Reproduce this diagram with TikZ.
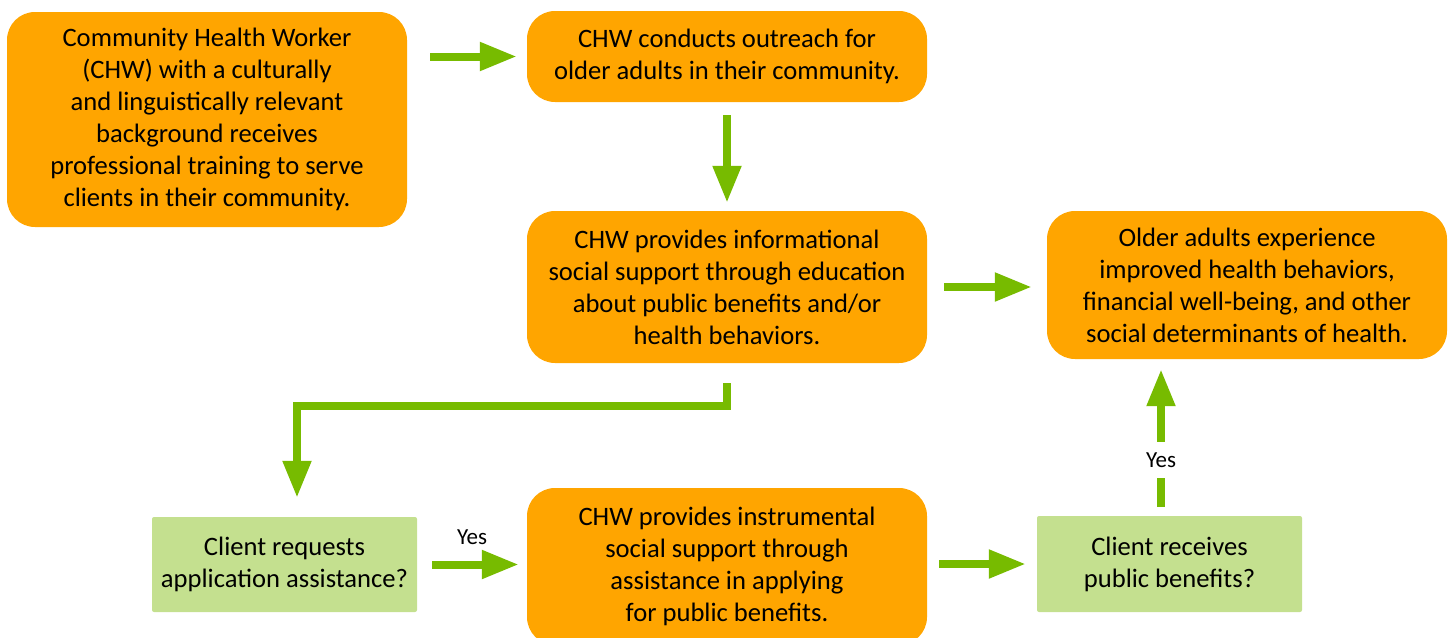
\documentclass[tikz,border=0pt]{standalone}
\usepackage{fontspec}
\setmainfont{Carlito}
\usetikzlibrary{arrows.meta}
\definecolor{boxorange}{RGB}{255,165,0}
\definecolor{boxgreen}{RGB}{196,224,143}
\definecolor{arrgreen}{RGB}{119,187,0}
\tikzset{
  obox/.style={fill=boxorange, rounded corners=28pt, align=center, inner sep=0pt,
    font=\fontsize{26.6}{32}\selectfont},
  gbox/.style={fill=boxgreen, rounded corners=2pt, align=center, inner sep=0pt,
    font=\fontsize{26.6}{32}\selectfont},
  arr/.style={draw=arrgreen, line width=8pt, -{Triangle[length=37pt,width=27pt]}},
  yeslbl/.style={font=\fontsize{23}{26}\selectfont, inner sep=0pt}
}
\begin{document}
\begin{tikzpicture}[x=1pt,y=-1pt]
\useasboundingbox (0,0) rectangle (1453,637);
\clip (0,0) rectangle (1453,637);
\node[obox, minimum width=400pt, minimum height=215pt] (A) at (207,119.5)
  {Community Health Worker\\(CHW) with a culturally\\and linguistically relevant\\background receives\\professional training to serve\\clients in their community.};
\node[obox, minimum width=400pt, minimum height=91pt] (B) at (727,56.5)
  {CHW conducts outreach for\\older adults in their community.};
\node[obox, minimum width=400pt, minimum height=152pt] (C) at (727,287)
  {CHW provides informational\\social support through education\\about public benefits and/or\\health behaviors.};
\node[obox, minimum width=400pt, minimum height=148pt] (D) at (1247,285)
  {Older adults experience\\improved health behaviors,\\financial well-being, and other\\social determinants of health.};
\node[gbox, minimum width=265pt, minimum height=95pt] (E) at (284.5,564.5)
  {Client requests\\application assistance?};
\node[obox, minimum width=400pt, minimum height=157pt] (F) at (727,566.5)
  {CHW provides instrumental\\social support through\\assistance in applying\\for public benefits.};
\node[gbox, minimum width=265pt, minimum height=96pt] (G) at (1169.5,564)
  {Client receives\\public benefits?};
\draw[arr, shorten <=23pt, shorten >=10pt] (A.east |- B.west) -- (B.west);
\draw[arr, shorten <=13pt, shorten >=8pt] (B.south) -- (C.north);
\draw[arr, shorten <=17pt, shorten >=15pt] (C.east) -- (C.east -| D.west);
\draw[arr, shorten <=20pt, shorten >=19pt] (C.south) -- ++(0,43) -| ([xshift=12.5pt]E.north);
\draw[arr, shorten <=15pt, shorten >=8pt] (E.east) -- node[yeslbl, yshift=27pt] (y1) {Yes} (E.east -| F.west);
\draw[arr, shorten <=12pt, shorten >=11pt] (F.east |- G.west) -- (G.west);
\draw[arr, shorten <=9pt, shorten >=10pt] ([xshift=-8.5pt]G.north) -- node[yeslbl, pos=0.357, fill=white, minimum height=36pt, minimum width=30pt] (y2) {Yes} ([xshift=-8.5pt]G.north |- D.south);
\end{tikzpicture}
\end{document}
